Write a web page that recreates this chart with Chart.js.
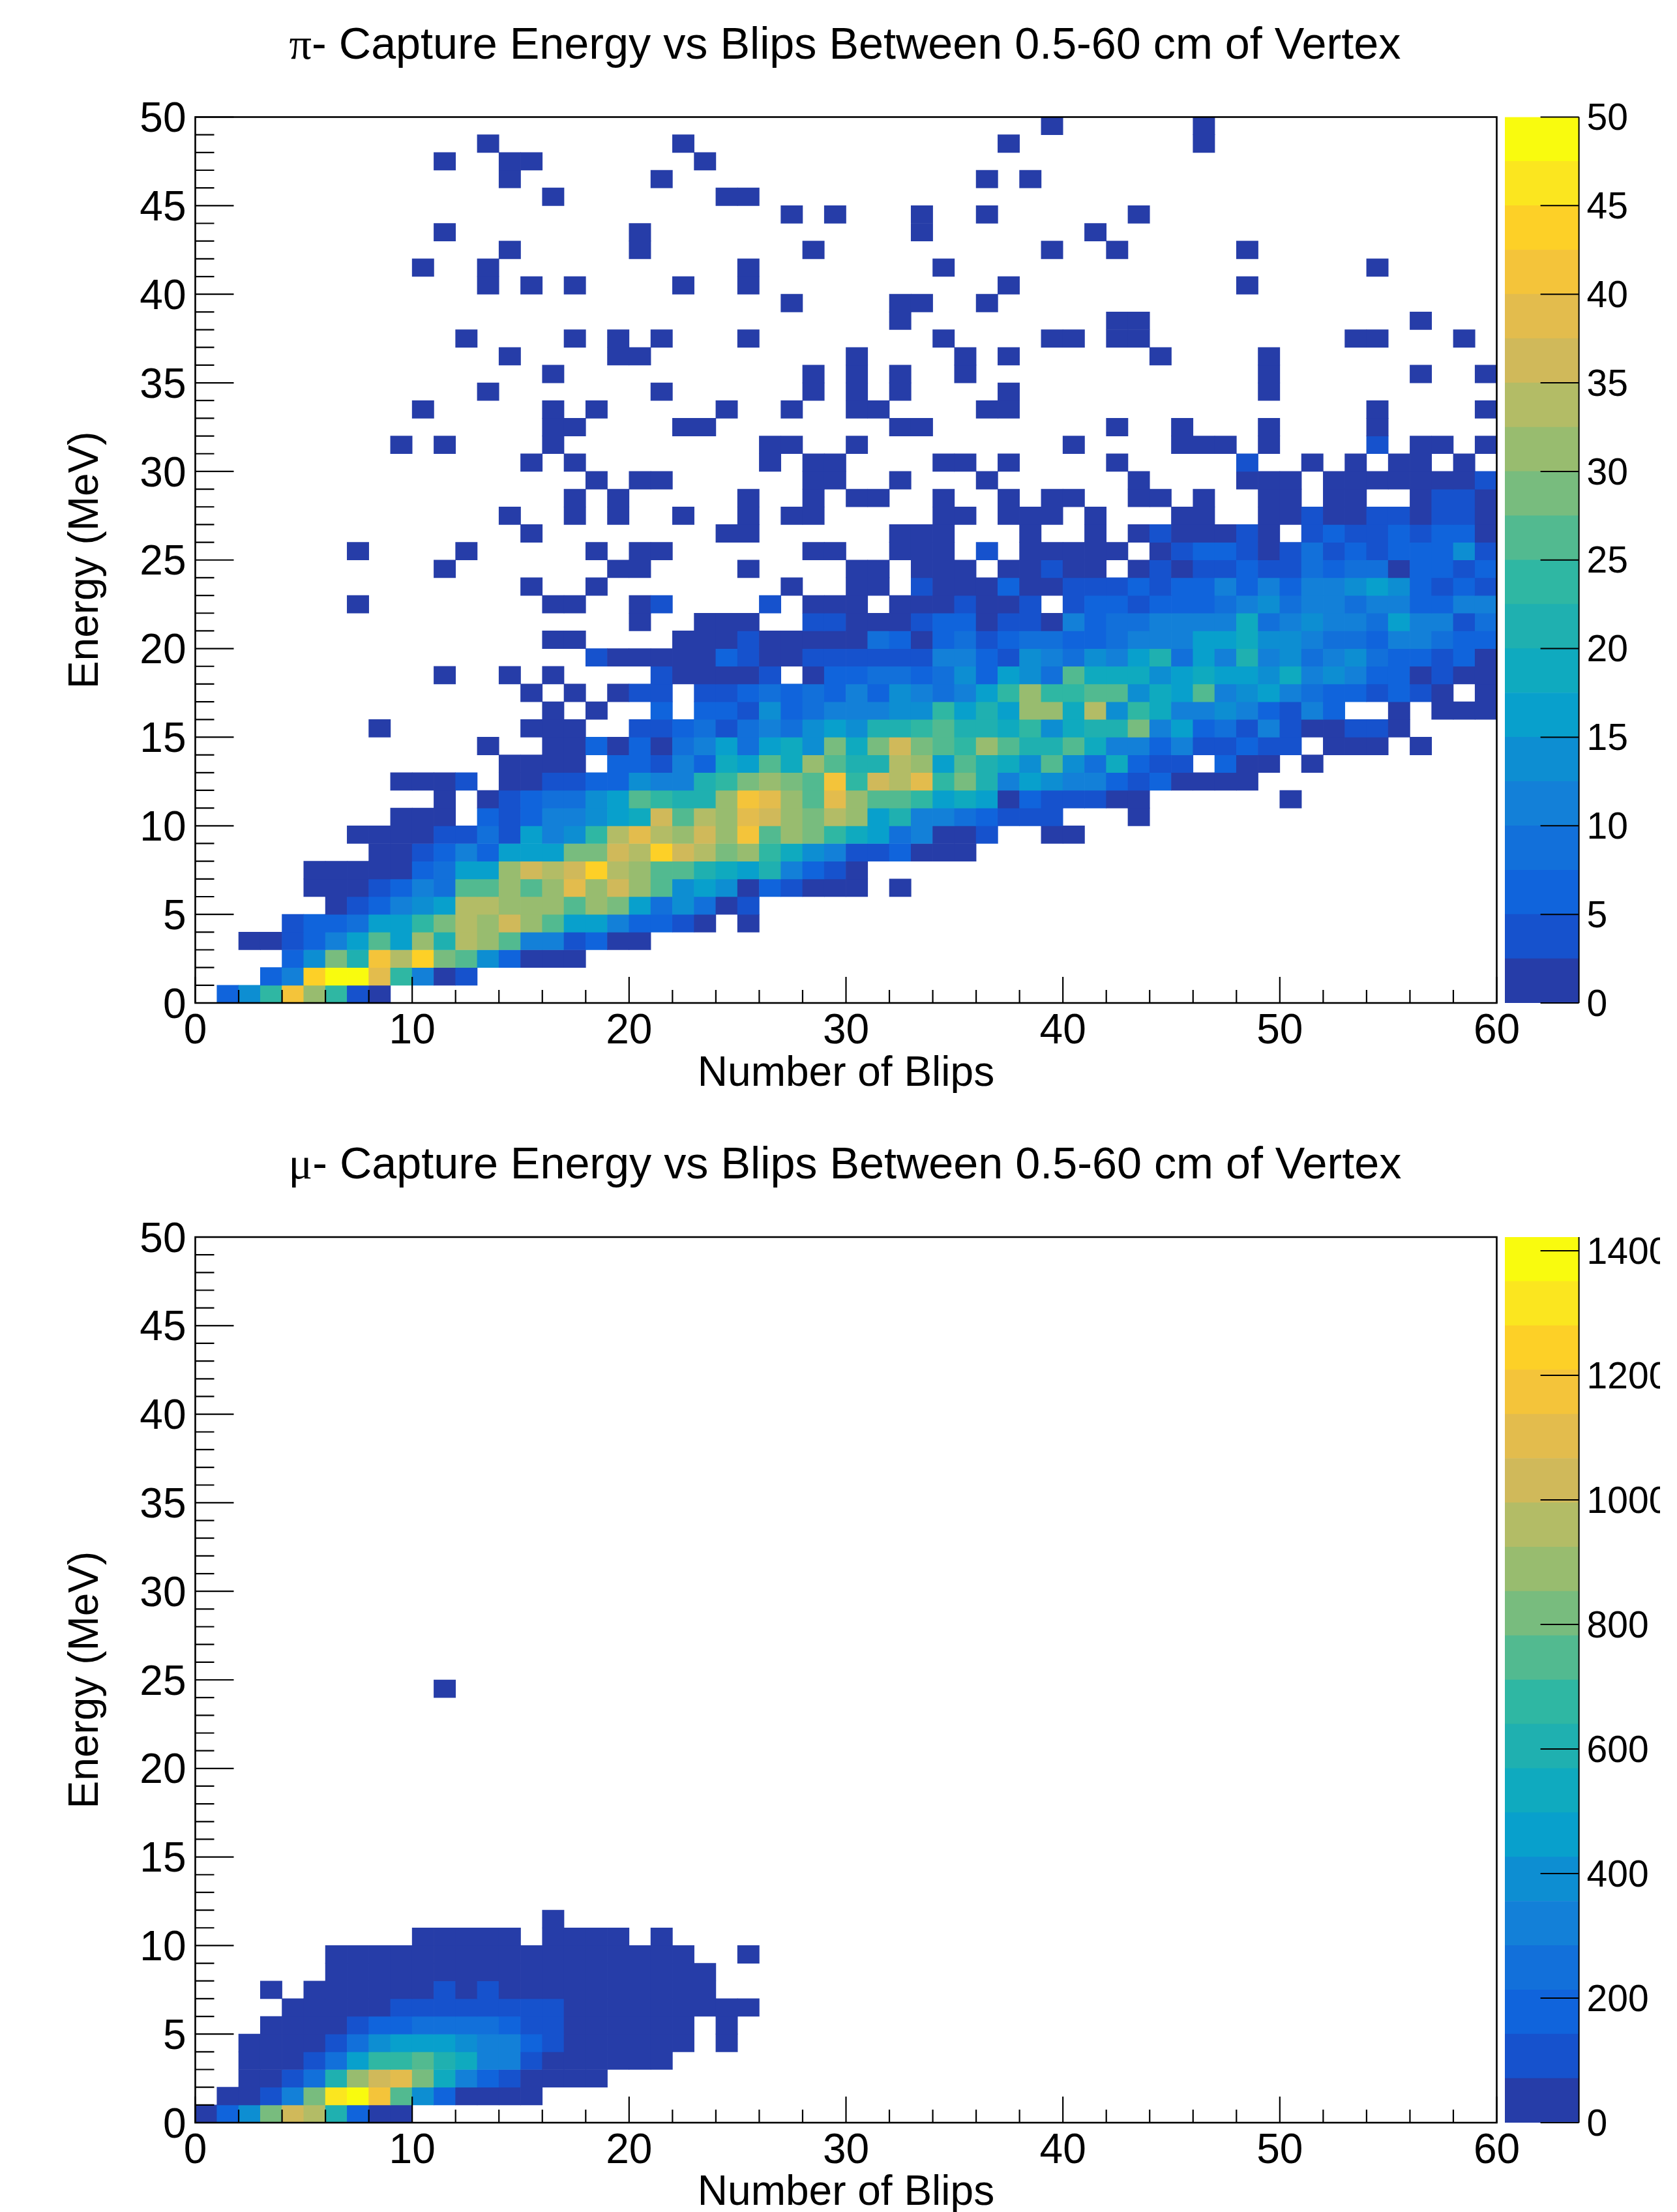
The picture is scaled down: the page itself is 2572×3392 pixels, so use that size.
<!DOCTYPE html>
<html>
<head>
<meta charset="utf-8">
<script src="https://cdn.jsdelivr.net/npm/chart.js@4"></script>
<style>
    html, body { margin: 0; padding: 0; background: #fff; overflow: hidden; width: 2572px; height: 3392px; }
    canvas { position: absolute; }
    .title { position: absolute; left: 0; width: 2592px; text-align: center; font: 68.3px/76px "Liberation Sans"; color: #000; white-space: nowrap; }
    .title span { font-family: "Liberation Serif"; }
</style>
</head>
<body>
<div class="title" style="top:28px"><span>π</span>- Capture Energy vs Blips Between 0.5-60 cm of Vertex</div>
<canvas id="piPlot" width="2546" height="1676" style="left:0;top:0"></canvas>
<canvas id="piBar" width="246" height="1676" style="left:2300px;top:0"></canvas>
<div class="title" style="top:1745px"><span>μ</span>- Capture Energy vs Blips Between 0.5-60 cm of Vertex</div>
<canvas id="muPlot" width="2546" height="1692" style="left:0;top:1700px"></canvas>
<canvas id="muBar" width="246" height="1692" style="left:2300px;top:1700px"></canvas>
<script>
//data: counts per bin, rows go bottom to top (energy bin), columns are number of blips
var piRows = [
    [0,6,14,24,41,31,24,4,1],
    [0,0,0,6,11,44,49,49,39,24, 11,1,4],
    [0,0,0,0,6,14,29,21,41,34, 44,29,26,14,6,1,1,1],
    [0,0,1,1,4,6,11,16,26,16, 31,21,34,31,26,11,11,4,6,1, 1],
    [0,0,0,0,4,6,6,9,16,16, 24,29,34,31,36,31,26,16,16,11, 6,6,4,1,0,1],
    [0,0,0,0,0,0,1,4,6,11, 14,16,34,34,31,31,31,26,31,29, 16,9,14,9,1,4],
    [0,0,0,0,0,1,1,1,4,6, 11,9,26,26,31,26,31,39,31,36, 31,26,14,16,14,1,6,4,1,1, 1,0,1],
    [0,0,0,0,0,1,1,1,1,1, 6,9,16,16,31,36,34,36,44,34, 31,26,26,21,19,16,21,11,6,4, 1],
    [0,0,0,0,0,0,0,0,1,1, 4,6,11,6,16,16,16,29,29,36, 34,44,36,34,29,31,24,19,14,11, 4,4,6,1,1,1],
    [0,0,0,0,0,0,0,1,1,1, 1,4,4,9,4,16,11,14,24,34, 39,34,31,36,31,41,26,31,29,24, 19,16,9,11,1,1,4,0,0,1, 1],
    [0,0,0,0,0,0,0,0,0,1, 1,1,0,6,4,6,11,11,14,16, 19,36,26,34,31,39,36,31,29,34, 31,16,21,11,11,9,6,4,4,4, 0,0,0,1],
    [0,0,0,0,0,0,0,0,0,0, 0,1,0,1,4,6,9,9,14,16, 26,24,21,21,31,41,39,31,26,39, 31,26,26,24,16,19,16,1,6,4, 4,4,1,1,0,0,0,0,0,0, 1],
    [0,0,0,0,0,0,0,0,0,1, 1,1,4,0,1,1,4,4,6,6, 14,11,11,21,24,29,31,29,26,41, 24,36,34,39,24,29,21,11,16,14, 11,11,6,4,6,1,1,1,1],
    [0,0,0,0,0,0,0,0,0,0, 0,0,0,0,1,1,1,1,0,6, 6,4,11,6,19,16,26,19,31,26, 21,21,34,31,16,26,21,19,14,26, 14,9,19,6,4,4,0,6,1,1, 0,1],
    [0,0,0,0,0,0,0,0,0,0, 0,0,0,1,0,0,1,1,6,1, 6,1,9,11,16,9,16,19,14,29, 19,29,36,29,26,24,31,26,21,21, 26,19,11,11,6,11,4,4,6,4, 4,0,1,1,1,0,1],
    [0,0,0,0,0,0,0,0,1,0, 0,0,0,0,0,1,1,1,0,0, 4,4,6,9,4,9,11,9,14,16, 14,21,21,24,26,21,21,19,24,14, 19,21,21,29,11,16,6,9,4,11, 4,1,1,4,4,1],
    [0,0,0,0,0,0,0,0,0,0, 0,0,0,0,0,0,1,0,1,0, 0,6,0,6,6,4,14,6,9,11, 11,11,14,14,24,16,21,16,31,31, 19,34,14,24,19,11,11,14,11,6, 4,11,6,0,0,1,0,1,1,1],
    [0,0,0,0,0,0,0,0,0,0, 0,0,0,0,0,1,0,1,0,1, 4,4,0,4,4,6,9,6,9,6, 11,6,14,11,9,11,16,24,31,24, 24,26,26,14,19,16,26,11,14,16, 11,9,6,6,4,6,4,1,0,1],
    [0,0,0,0,0,0,0,0,0,0, 0,1,0,0,1,0,1,0,0,0, 0,4,1,1,1,1,4,0,1,6, 6,9,9,6,9,14,6,16,14,9, 26,19,19,19,14,16,19,16,16,14, 19,11,14,11,6,6,1,4,1,1],
    [0,0,0,0,0,0,0,0,0,0, 0,0,0,0,0,0,0,0,4,1, 1,1,1,1,6,4,1,1,4,4, 4,4,4,4,11,11,6,4,14,11, 9,14,11,16,21,9,16,11,21,11, 14,9,11,14,9,6,6,4,6,1],
    [0,0,0,0,0,0,0,0,0,0, 0,0,0,0,0,0,1,1,0,0, 0,0,1,1,1,4,1,1,1,1, 1,9,6,1,6,9,4,6,9,9, 6,6,9,11,11,11,16,16,19,14, 14,11,9,9,6,11,11,9,6,6],
    [0,0,0,0,0,0,0,0,0,0, 0,0,0,0,0,0,0,0,0,0, 1,0,0,1,1,1,0,0,4,4, 1,1,1,4,6,6,1,4,4,1, 11,6,9,9,11,11,11,11,19,9, 11,14,11,11,9,16,11,11,4,9],
    [0,0,0,0,0,0,0,1,0,0, 0,0,0,0,0,0,1,1,0,0, 1,4,0,0,0,0,4,0,1,1, 1,0,1,1,1,4,1,1,4,0, 4,6,6,4,6,6,6,9,11,14, 9,11,11,9,11,11,6,6,11,11],
    [0,0,0,0,0,0,0,0,0,0, 0,0,0,0,0,1,0,0,1,0, 0,0,0,0,0,0,0,1,0,0, 1,1,0,4,1,1,1,6,1,1, 4,4,4,6,4,6,6,11,6,11, 6,11,11,14,16,14,6,4,6,4],
    [0,0,0,0,0,0,0,0,0,0, 0,1,0,0,0,0,0,0,0,1, 1,0,0,0,0,1,0,0,0,0, 1,1,0,1,1,1,0,1,1,4, 1,1,0,1,4,1,4,4,6,4, 4,9,6,9,9,1,6,6,4,6],
    [0,0,0,0,0,0,0,1,0,0, 0,0,1,0,0,0,0,0,1,0, 1,1,0,0,0,0,0,0,1,1, 0,0,1,1,1,0,4,0,1,1, 1,1,1,0,1,4,6,6,4,1, 4,9,4,6,4,6,6,6,14,4],
    [0,0,0,0,0,0,0,0,0,0, 0,0,0,0,0,1,0,0,0,0, 0,0,0,0,1,1,0,0,0,0, 0,0,1,1,1,0,0,0,1,0, 0,1,0,1,4,1,1,1,4,1, 0,4,6,4,4,6,4,6,6,1],
    [0,0,0,0,0,0,0,0,0,0, 0,0,0,0,1,0,0,1,0,1, 0,0,1,0,0,1,0,1,1,0, 0,0,0,0,1,1,0,1,1,1, 0,1,0,0,0,1,1,0,0,1, 1,4,1,1,4,4,1,4,4,1],
    [0,0,0,0,0,0,0,0,0,0, 0,0,0,0,0,0,0,1,0,1, 0,0,0,0,0,1,0,0,1,0, 1,1,0,0,1,0,0,1,0,1, 1,0,0,1,1,0,1,0,0,1, 1,0,1,1,0,0,1,4,4,1],
    [0,0,0,0,0,0,0,0,0,0, 0,0,0,0,0,0,0,0,1,0, 1,1,0,0,0,0,0,0,1,1, 0,0,1,0,0,0,1,0,0,0, 0,0,0,1,0,0,0,0,1,1, 1,0,1,1,1,1,1,1,1,4],
    [0,0,0,0,0,0,0,0,0,0, 0,0,0,0,0,1,0,1,0,0, 0,0,0,0,0,0,1,0,1,1, 0,0,0,0,1,1,0,1,0,0, 0,0,1,0,0,0,0,0,4,0, 0,1,0,1,0,1,1,0,1,0],
    [0,0,0,0,0,0,0,0,0,1, 0,1,0,0,0,0,1,0,0,0, 0,0,0,0,0,0,1,1,0,0, 1,0,0,0,0,0,0,0,0,0, 1,0,0,0,0,1,1,1,0,1, 0,0,0,0,4,0,1,1,0,1]
];

//upper energy rows: only single counts, listed by column
var piLoneCells = {
    32: [16,17,22,23,32,33,42,45,49,54],
    33: [10,16,18,24,27,30,31,36,37,54,59],
    34: [13,21,28,30,32,37,49],
    35: [16,28,30,32,35,49,56,59],
    36: [14,19,20,30,35,37,44,49],
    37: [12,17,19,21,25,34,39,40,42,43,53,54,58],
    38: [32,42,43,56],
    39: [27,32,33,36],
    40: [13,15,17,22,25,37,48],
    41: [10,13,25,34,54],
    42: [14,20,28,39,42,48],
    43: [11,20,33,41],
    44: [27,29,33,36,43],
    45: [16,24,25],
    46: [14,21,36,38],
    47: [11,14,15,23],
    48: [13,22,37,46],
    49: [39,46]
};

var muRows = [
    [30,180,390,815,1030,960,600,180,30,30],
    [0,30,30,100,320,815,1315,1390,1170,745,390,180,30,30,30,30],
    [0,0,30,30,100,250,600,890,1030,1100,815,530,320,180,100,30,30,30,30],
    [0,0,30,30,30,100,250,460,675,675,745,600,530,320,320,100,30,30,30,30,30,30],
    [0,0,30,30,30,30,100,250,390,460,460,460,390,320,320,180,100,30,30,30,30,30,30,0,30],
    [0,0,0,30,30,30,30,100,180,180,250,250,250,250,180,100,100,30,30,30,30,30,30,0,30],
    [0,0,0,0,30,30,30,30,30,100,100,100,100,100,100,100,100,30,30,30,30,30,30,30,30,30],
    [0,0,0,30,0,30,30,30,30,30,30,100,30,100,30,30,30,30,30,30,30,30,30,30],
    [0,0,0,0,0,0,30,30,30,30,30,30,30,30,30,30,30,30,30,30,30,30,30,30],
    [0,0,0,0,0,0,30,30,30,30,30,30,30,30,30,30,30,30,30,30,30,30,30,0,0,30],
    [0,0,0,0,0,0,0,0,0,0,30,30,30,30,30,0,30,30,30,30,0,30],
    [0,0,0,0,0,0,0,0,0,0,0,0,0,0,0,0,30]
];
var muLoneCells = { 24: [11] };

var piBarMax = 50;
var muBarMax = 1422;
var piBarTicks = [0,5,10,15,20,25,30,35,40,45,50];
var muBarTicks = [0,200,400,600,800,1000,1200,1400];

//ROOT style palette, 20 contour bands
var palette = ['#263DA8','#1652CD','#1064DC','#1270DA','#1380D8','#0D8ED2','#08A0CC','#0FAABF','#1FB0B0','#2FB7A3',
               '#52BA90','#78BC7E','#98BC6F','#B3BC66','#D0B95A','#E3BC4D','#F4C43A','#FDD027','#FBE61F','#F9FB0E'];

var fontName = 'Liberation Sans';

function makeCells(rows, lone, barMax) {
    var cells = [];
    rows.forEach(function(row, r) {
        row.forEach(function(v, c) {
            if (v > 0) cells.push({x: c + 0.5, y: [r, r + 1], v: v});
        });
    });
    Object.keys(lone).forEach(function(r) {
        lone[r].forEach(function(c) {
            cells.push({x: c + 0.5, y: [+r, +r + 1], v: barMax / 50});
        });
    });
    return cells;
}

function bandColor(v, barMax) {
    return palette[Math.min(19, Math.floor(v / barMax * 20))];
}

//ticks point into the plot, ROOT style
var rootAxes = {
    id: 'rootAxes',
    afterDraw: function(chart) {
        var c = chart.ctx, a = chart.chartArea, x = chart.scales.x, y = chart.scales.y, i, p, len;
        c.save();
        c.strokeStyle = '#000';
        c.lineWidth = 2.2;
        c.beginPath();
        for (i = 0; i <= 60; i += 2) {
            p = x.getPixelForValue(i);
            len = i % 10 == 0 ? 40 : 20;
            c.moveTo(p, a.bottom);
            c.lineTo(p, a.bottom - len);
        }
        for (i = 0; i <= 50; i++) {
            p = y.getPixelForValue(i);
            len = i % 5 == 0 ? 59 : 29;
            c.moveTo(a.left, p);
            c.lineTo(a.left + len, p);
        }
        c.stroke();
        c.lineWidth = 2.6;
        c.strokeRect(a.left, a.top, a.right - a.left, a.bottom - a.top);
        c.restore();
    }
};

var barLines = {
    id: 'barLines',
    afterDraw: function(chart) {
        var c = chart.ctx, a = chart.chartArea, y = chart.scales.y;
        c.save();
        c.strokeStyle = '#000';
        c.lineWidth = 2;
        c.beginPath();
        y.ticks.forEach(function(t) {
            var p = y.getPixelForValue(t.value);
            c.moveTo(a.right, p);
            c.lineTo(a.right - 59, p);
        });
        c.moveTo(a.right, a.top);
        c.lineTo(a.right, a.bottom);
        c.stroke();
        c.restore();
    }
};

function drawPlot(id, rows, lone, barMax, plotTop, axisHeight) {
    new Chart(document.getElementById(id).getContext('2d'), {
        type: 'bar',
        data: {
            datasets: [{
                data: makeCells(rows, lone, barMax),
                backgroundColor: function(ctx) { return bandColor(ctx.raw.v, barMax); },
                borderWidth: 0,
                barPercentage: 1,
                categoryPercentage: 1,
                grouped: false
            }]
        },
        options: {
            responsive: false,
            animation: false,
            devicePixelRatio: 1,
            layout: { padding: { left: 0, right: 250.5, top: plotTop, bottom: 0 } },
            plugins: { legend: { display: false }, tooltip: { enabled: false } },
            scales: {
                x: {
                    type: 'linear', min: 0, max: 60, offset: false,
                    grid: { display: false, drawTicks: false },
                    border: { display: false },
                    ticks: { stepSize: 10, maxRotation: 0, padding: 6, color: '#000', font: { family: fontName, size: 64 } },
                    title: { display: true, text: 'Number of Blips', color: '#000', padding: 0,
                             font: { family: fontName, size: 64, lineHeight: 0.9 } },
                    afterFit: function(s) { s.height = axisHeight; }
                },
                y: {
                    type: 'linear', min: 0, max: 50,
                    grid: { display: false, drawTicks: false },
                    border: { display: false },
                    ticks: { stepSize: 5, padding: 14, labelOffset: 5, color: '#000', font: { family: fontName, size: 64 } },
                    title: { display: true, text: 'Energy (MeV)', color: '#000', padding: { top: 100, bottom: 0 },
                             font: { family: fontName, size: 64, lineHeight: 1 } },
                    afterFit: function(s) { s.width = 299.5; }
                }
            }
        },
        plugins: [rootAxes]
    });
}

function drawBar(id, barMax, barTicks, plotTop, axisHeight) {
    var sets = palette.map(function(col, i) {
        return {
            data: [[i * barMax / 20, (i + 1) * barMax / 20]],
            backgroundColor: col,
            borderWidth: 0,
            barPercentage: 1,
            categoryPercentage: 1,
            grouped: false
        };
    });
    new Chart(document.getElementById(id).getContext('2d'), {
        type: 'bar',
        data: { labels: [''], datasets: sets },
        options: {
            responsive: false,
            animation: false,
            devicePixelRatio: 1,
            layout: { padding: { left: 8, right: 0, top: plotTop, bottom: axisHeight } },
            plugins: { legend: { display: false }, tooltip: { enabled: false } },
            scales: {
                x: { display: false },
                y: {
                    position: 'right', min: 0, max: barMax,
                    grid: { display: false, drawTicks: false },
                    border: { display: false },
                    ticks: {
                        padding: 12, labelOffset: 4, color: '#000', font: { family: fontName, size: 57 },
                        callback: function(v) { return String(v); }
                    },
                    afterBuildTicks: function(s) {
                        s.ticks = barTicks.map(function(v) { return {value: v}; });
                    },
                    afterFit: function(s) { s.width = 124.4; }
                }
            }
        },
        plugins: [barLines]
    });
}

drawPlot('piPlot', piRows, piLoneCells, piBarMax, 179.5, 138);
drawBar('piBar', piBarMax, piBarTicks, 179.5, 138);
drawPlot('muPlot', muRows, muLoneCells, muBarMax, 197, 137);
drawBar('muBar', muBarMax, muBarTicks, 197, 137);
</script>
</body>
</html>
